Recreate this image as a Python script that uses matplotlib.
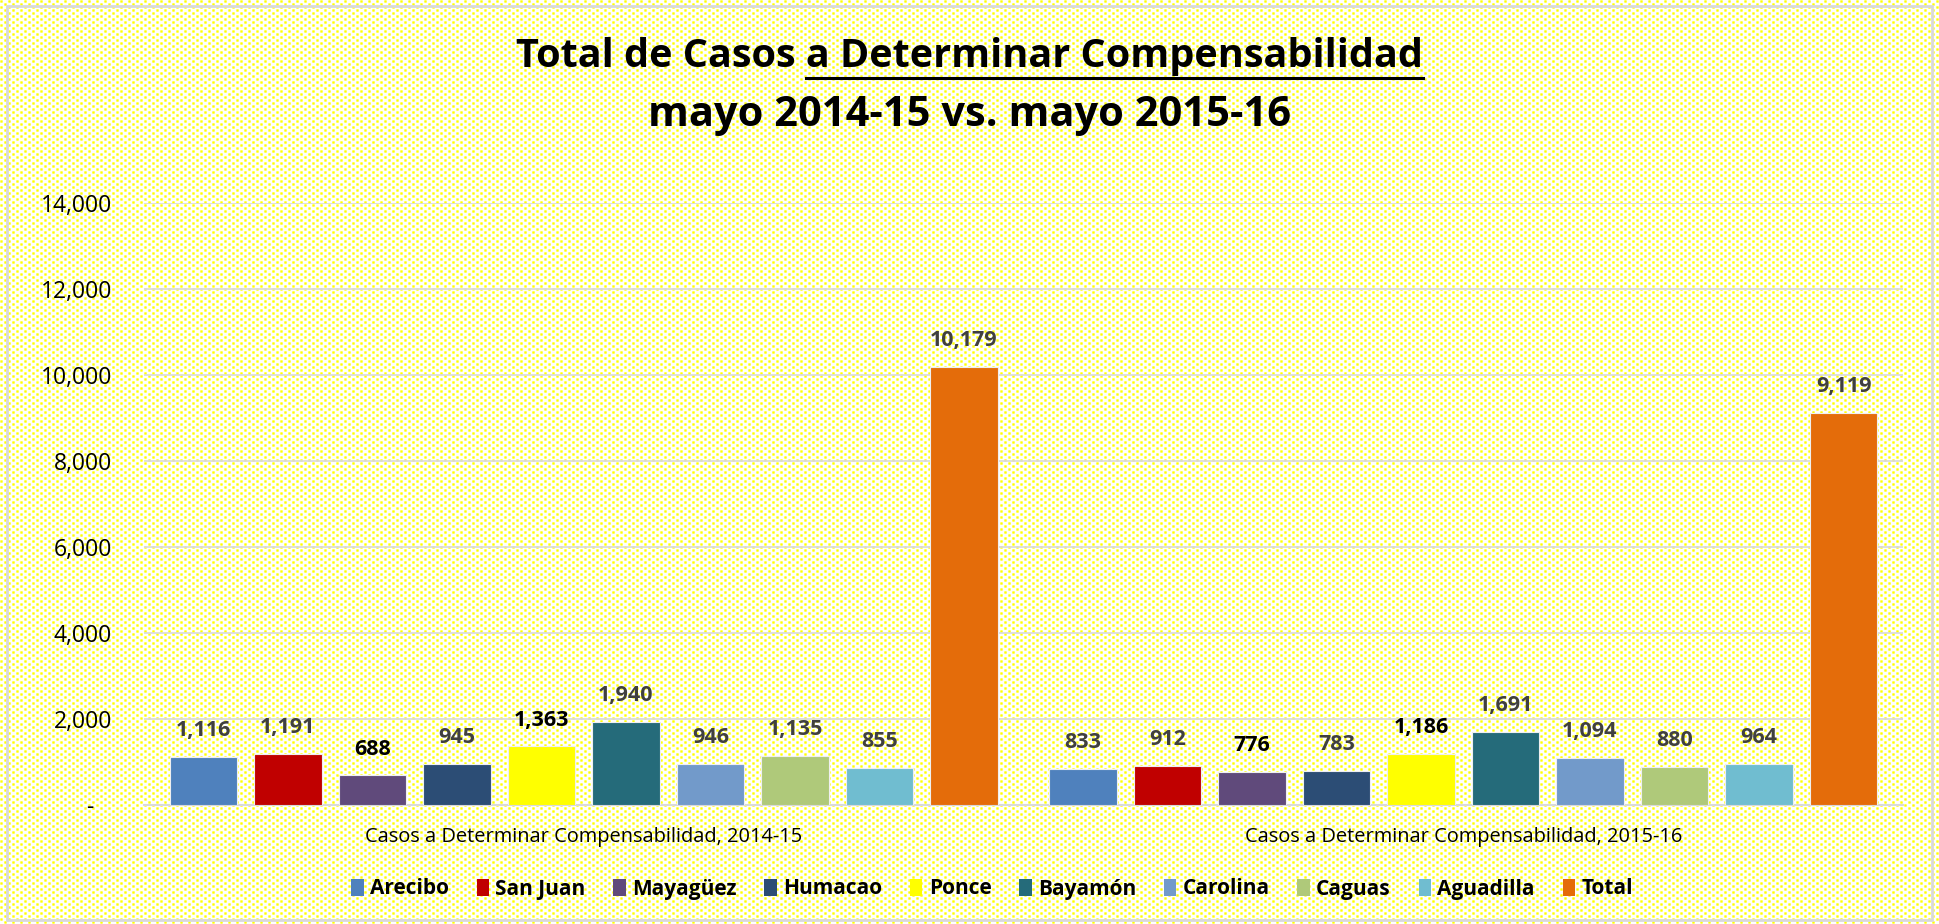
import numpy as np
import matplotlib
matplotlib.use("Agg")
import matplotlib.pyplot as plt
from matplotlib.patches import Patch, Rectangle
from matplotlib.ticker import FuncFormatter

plt.rcParams['font.family'] = ['Open Sans', 'DejaVu Sans']

# ---------------- data ----------------
categories = ["Casos a Determinar Compensabilidad, 2014-15",
              "Casos a Determinar Compensabilidad, 2015-16"]
series = ["Arecibo", "San Juan", "Mayagüez", "Humacao", "Ponce",
          "Bayamón", "Carolina", "Caguas", "Aguadilla", "Total"]
values_2014_15 = [1116, 1191, 688, 945, 1363, 1940, 946, 1135, 855, 10179]
values_2015_16 = [833, 912, 776, 783, 1186, 1691, 1094, 880, 964, 9119]
colors = ["#4F81BD", "#C00000", "#604A7B", "#2C4D75", "#FFFF00",
          "#256B7A", "#729ACA", "#AFC97A", "#70BDD0", "#E46C0A"]
label_colors = ["#404040", "#404040", "#000000", "#404040", "#000000",
                "#404040", "#404040", "#404040", "#404040", "#404040"]
title_line1_plain = "Total de Casos "
title_line1_under = "a Determinar Compensabilidad"
title_line2 = "mayo 2014-15 vs. mayo 2015-16"

W, H = 1939, 924
fig = plt.figure(figsize=(W / 100, H / 100), dpi=100)
fig.patch.set_facecolor("white")

# dotted yellow background pattern
TW, TH = 8, 6
tile = np.ones((TH, TW, 3))
def dot(t, r, c):
    for dr in (-1, 0, 1):
        for dc in (-1, 0, 1):
            rr, cc = (r + dr) % TH, (c + dc) % TW
            inten = 1.0 if (dr == 0 and dc == 0) else (0.7 if dr == 0 or dc == 0 else 0.45)
            t[rr, cc, 2] = min(t[rr, cc, 2], 1 - inten)
dot(tile, 1, 1)
dot(tile, 4, 5)
pattern = np.tile(tile, (H // TH + 1, W // TW + 1, 1))[:H, :W]
fig.figimage(pattern, xo=0, yo=0, zorder=-10)

# outer border
fig.patches.append(Rectangle((7 / W, 4 / H), (1932 - 7) / W, (918 - 4) / H,
                             transform=fig.transFigure, fill=False,
                             edgecolor="#d9d9d9", lw=2, zorder=-5))

ax = fig.add_axes([144 / W, 1 - 805 / H, (1903 - 144) / W, (805 - 203) / H])
ax.set_facecolor("none")

n = len(series)
step = 0.0961
width = 0.0767
x = np.arange(len(categories))
data = np.array([values_2014_15, values_2015_16])
for i in range(n):
    xs = x + (i - (n - 1) / 2) * step
    vals = data[:, i]
    bars = ax.bar(xs, vals, width=width, color=colors[i],
                  edgecolor="#f0f0f0", linewidth=0.8, zorder=3, label=series[i])
    for b, v in zip(bars, vals):
        ax.annotate(f"{v:,}", (b.get_x() + b.get_width() / 2, v),
                    xytext=(0, 19), textcoords="offset points",
                    ha="center", va="center", fontsize=15.5, fontweight="bold",
                    color=label_colors[i], zorder=4)

ax.set_xlim(-0.5, 1.5)
ax.set_ylim(0, 14000)
ax.set_yticks(np.arange(0, 14001, 2000))
ax.yaxis.set_major_formatter(FuncFormatter(lambda v, p: "-   " if v == 0 else f"{int(v):,}"))
ax.set_xticks(x)
ax.set_xticklabels(categories, fontsize=14.4, color="#000000")
ax.tick_params(axis="both", length=0)
ax.tick_params(axis="y", pad=23, labelsize=16.5, labelcolor="#000000")
ax.tick_params(axis="x", pad=16)
ax.grid(axis="y", color="#d9d9d9", linewidth=1.2, zorder=0)
ax.set_axisbelow(True)
for s in ["top", "right", "left"]:
    ax.spines[s].set_visible(False)
ax.spines["bottom"].set_color("#d9d9d9")
ax.spines["bottom"].set_linewidth(1.5)

# title
TFS = 28.5
full1 = title_line1_plain + title_line1_under
t1 = fig.text(0.5, 1 - 56 / H, full1, ha="center", va="center",
              fontsize=TFS, fontweight="bold", color="#000000")
t2 = fig.text(0.5, 1 - 115 / H, title_line2, ha="center", va="center",
              fontsize=TFS + 1.5, fontweight="bold", color="#000000")
fig.canvas.draw()
r = fig.canvas.get_renderer()
bb = t1.get_window_extent(r)
tmp = fig.text(0, 0, title_line1_under, fontsize=TFS, fontweight="bold")
wsub = tmp.get_window_extent(r).width
tmp.remove()
y_ul = (H - 78) / H
fig.add_artist(plt.Line2D([(bb.x1 - wsub) / W, bb.x1 / W], [y_ul, y_ul],
                          transform=fig.transFigure, color="black", lw=2.2))

# legend
handles = [Patch(facecolor=c, edgecolor="none") for c in colors]
leg = fig.legend(handles, series, loc="center", bbox_to_anchor=(992 / W, 1 - 889 / H),
                 ncol=n, frameon=False, handlelength=0.6, handleheight=0.9,
                 handletextpad=0.3, columnspacing=1.33,
                 prop={"weight": "bold", "size": 15})

fig.savefig("out.png", dpi=100)
